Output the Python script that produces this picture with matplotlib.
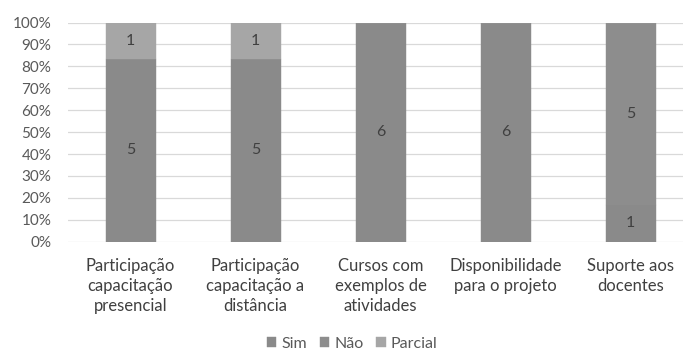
import numpy as np
import matplotlib.pyplot as plt
from matplotlib.ticker import PercentFormatter

plt.rcParams['font.family'] = ['Lato', 'DejaVu Sans']

categories = ["Participação\ncapacitação\npresencial", "Participação\ncapacitação a\ndistância",
              "Cursos com\nexemplos de\natividades", "Disponibilidade\npara o projeto",
              "Suporte aos\ndocentes"]
series = ["Sim", "Não", "Parcial"]
sim = [5, 5, 6, 6, 1]
nao = [0, 0, 0, 0, 5]
parcial = [1, 1, 0, 0, 0]
colors = ["#8a8a8a", "#8d8d8d", "#a6a6a6"]

values = np.array([sim, nao, parcial], dtype=float)
totals = values.sum(axis=0)
shares = values / totals * 100

fig = plt.figure(figsize=(6.83, 3.56), dpi=100)
ax = fig.add_axes([68 / 683, 1 - 241.7 / 356, 625 / 683, 219.2 / 356])

x = np.arange(len(categories))
bottom = np.zeros(len(categories))
for i, name in enumerate(series):
    bars = ax.bar(x, shares[i], 0.4, bottom=bottom, color=colors[i], label=name,
                  edgecolor=colors[i], linewidth=0.3, zorder=3)
    for j, b in enumerate(bars):
        if values[i, j] > 0:
            ax.text(b.get_x() + b.get_width() / 2, bottom[j] + shares[i, j] / 2,
                    f"{int(values[i, j])}", ha='center', va='center',
                    color='#404040', fontsize=11.5, zorder=4)
    bottom += shares[i]

ax.set_xlim(-0.5, len(categories) - 0.5)
ax.set_ylim(0, 100)
ax.set_yticks(np.arange(0, 101, 10))
ax.yaxis.set_major_formatter(PercentFormatter(decimals=0))
ax.set_xticks(x)
ax.set_xticklabels(categories, fontsize=12, color='#404040', linespacing=1.3)
ax.tick_params(axis='y', labelsize=11, labelcolor='#595959', length=0, pad=12)
ax.tick_params(axis='x', length=0, pad=12)
ax.grid(axis='y', color='#d9d9d9', linewidth=0.9, zorder=0)
for s in ax.spines.values():
    s.set_visible(False)

fig.legend(loc='lower center', bbox_to_anchor=(352 / 683, -0.025), ncol=3, frameon=False,
           fontsize=11.5, handlelength=0.6, handleheight=0.6, handletextpad=0.3,
           columnspacing=0.8, labelcolor='#595959')

fig.savefig("out.png", dpi=100)
